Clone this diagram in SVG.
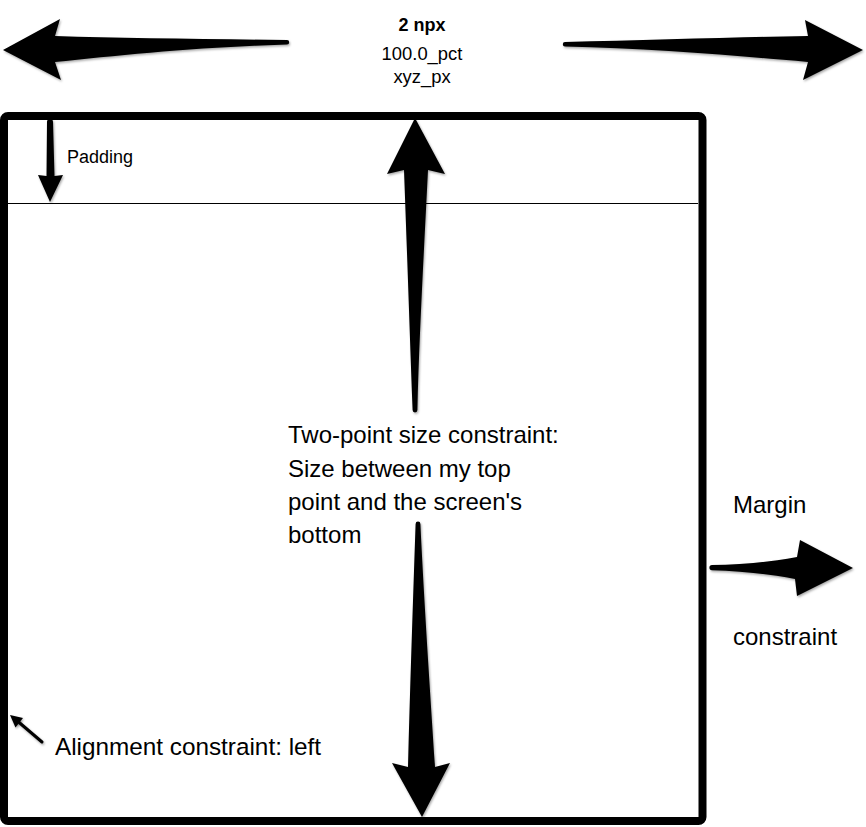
<svg xmlns="http://www.w3.org/2000/svg" width="866" height="827" viewBox="0 0 866 827">
  <style>
    .t { font-family: "Liberation Sans", Arial, Helvetica, sans-serif; fill: #000; }
    .arrow { fill: #000; filter: url(#sh); }
    .box { fill: #fff; stroke: #000; stroke-width: 8; }
    .thin { stroke: #000; stroke-width: 1.2; fill: none; }
  </style>
  <defs>
    <filter id="sh" x="-20%" y="-20%" width="140%" height="140%">
      <feDropShadow dx="1" dy="1.5" stdDeviation="1" flood-color="#000" flood-opacity="0.35"/>
    </filter>
  </defs>
  <rect width="866" height="827" fill="#fff"/>

  <g id="screen">
    <rect class="box" x="4" y="116" width="698.5" height="705" rx="4"/>
    <line class="thin" x1="8" y1="203.5" x2="698" y2="203.5"/>
  </g>

  <g id="top-labels">
    <text class="t" x="422" y="31" text-anchor="middle" font-size="18" font-weight="bold">2 npx</text>
    <text class="t" x="422" y="60" text-anchor="middle" font-size="18.4">100.0_pct</text>
    <text class="t" x="422" y="83" text-anchor="middle" font-size="18.4">xyz_px</text>
  </g>

  <g id="padding-label">
    <text class="t" x="67" y="163" font-size="18">Padding</text>
  </g>

  <g id="size-label">
    <text class="t" font-size="24">
      <tspan x="288" y="443">Two-point size constraint:</tspan>
      <tspan x="288" y="477">Size between my top</tspan>
      <tspan x="288" y="510">point and the screen's</tspan>
      <tspan x="288" y="543">bottom</tspan>
    </text>
  </g>

  <g id="margin-label">
    <text class="t" x="733" y="513" font-size="24">Margin</text>
    <text class="t" x="733" y="645" font-size="24">constraint</text>
  </g>

  <g id="alignment-label">
    <text class="t" x="55" y="755" font-size="24.3">Alignment constraint: left</text>
  </g>

  <g id="connectors">
    <!-- top left width arrow -->
    <path class="arrow" d="M3,50 L60,19 L55,36 C120,38 200,39 287,40 A2.2,2.2 0 0 1 287,44.4 C200,47 120,55 55,62 L61,80 Z"/>
    <!-- top right width arrow -->
    <path class="arrow" d="M863,50 L805,20 L808,36 C740,37 650,40 565,42 A2.2,2.2 0 0 0 565,46.4 C650,48 740,56 808,62 L803,80 Z"/>
    <!-- padding arrow -->
    <path class="arrow" d="M50,202 L38,175 L46.5,176 L47,122 A3,3 0 0 1 53,122 L54.5,176 L63,175 Z"/>
    <!-- up arrow (two-point size) -->
    <path class="arrow" d="M415,118 L445,174 L428,170 C424,250 419,340 417.4,410 A2.4,2.4 0 0 1 412.6,410 C410,340 407,250 404,170 L387,174 Z"/>
    <!-- down arrow -->
    <path class="arrow" d="M422,817 L450,763 L435,767 C430,690 424,600 420.4,524 A2.4,2.4 0 0 0 415.6,524 C413,600 410,690 408,767 L392,763 Z"/>
    <!-- margin arrow -->
    <path class="arrow" d="M853,568 L800,540 L797,557 C770,562 740,565 712,565 A2.6,2.6 0 0 0 712,570.2 C740,571 770,574 795,579 L797,596 Z"/>
    <!-- alignment arrow -->
    <line x1="42" y1="742" x2="18" y2="721.5" stroke="#000" stroke-width="3" stroke-linecap="round" filter="url(#sh)"/>
    <path class="arrow" d="M10,715 L23,718 L15.5,727.5 Z"/>
  </g>
</svg>
